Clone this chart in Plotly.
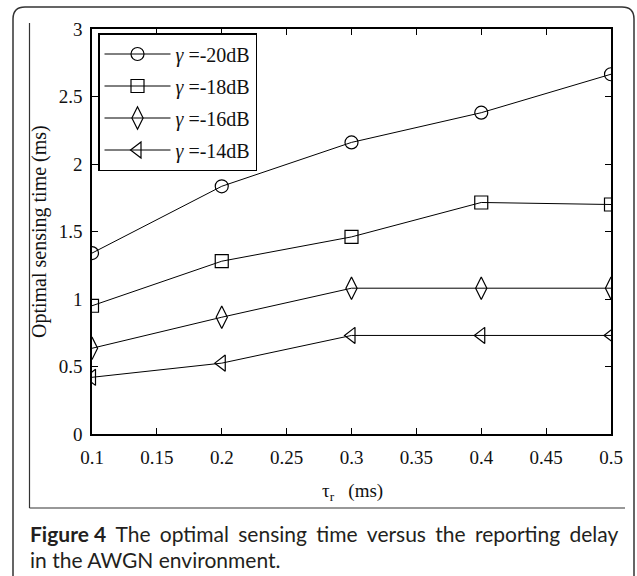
import plotly.graph_objects as go

# ---- data ----
tau_r = [0.1, 0.2, 0.3, 0.4, 0.5]
snr_labels = ["-20dB", "-18dB", "-16dB", "-14dB"]
t_m20 = [1.34, 1.835, 2.16, 2.38, 2.665]
t_m18 = [0.95, 1.28, 1.46, 1.715, 1.70]
t_m16 = [0.635, 0.865, 1.08, 1.08, 1.08]
t_m14 = [0.42, 0.525, 0.73, 0.73, 0.73]
x_ticks = [0.1, 0.15, 0.2, 0.25, 0.3, 0.35, 0.4, 0.45, 0.5]
x_ticklabels = ["0.1", "0.15", "0.2", "0.25", "0.3", "0.35", "0.4", "0.45", "0.5"]
y_ticks = [0, 0.5, 1, 1.5, 2, 2.5, 3]
y_ticklabels = ["0", "0.5", "1", "1.5", "2", "2.5", "3"]

W, H = 637, 576
L, R, T, B = 92, 611, 29, 434  # plot area in pixels


def px(xp):
    return (xp - L) / (R - L)


def py(yp):
    return (B - yp) / (B - T)


SERIF = "Liberation Serif, Times New Roman, serif"
SANS = "Lato, Open Sans, sans-serif"

fig = go.Figure()
series = [t_m20, t_m18, t_m16, t_m14]
symbols = ["circle-open", "square-open", "diamond-tall-open", "triangle-left-open"]
sizes = [13, 13, 16, 14]
for vals, lab, sym, sz in zip(series, snr_labels, symbols, sizes):
    fig.add_trace(go.Scatter(
        x=tau_r, y=vals, mode="lines+markers",
        name="<i>γ</i> =" + lab, legendgroup=lab,
        line=dict(color="black", width=1),
        marker=dict(symbol=sym, size=sz, color="black",
                    line=dict(color="black", width=1.2)),
    ))

axis_common = dict(
    showline=True, linecolor="black", linewidth=1.5, mirror="ticks",
    ticks="inside", ticklen=6, tickcolor="black", tickwidth=1,
    showgrid=False, zeroline=False,
    tickfont=dict(family=SERIF, size=19, color="#111"),
)
fig.update_xaxes(range=[0.1, 0.5], tickvals=x_ticks, ticktext=x_ticklabels,
                 ticklabelstandoff=5, **axis_common)
fig.update_yaxes(range=[0, 3], tickvals=y_ticks, ticktext=y_ticklabels,
                 ticklabelstandoff=4, **axis_common)

shapes = []
# outer rounded frame (open at bottom, image cropped)
r = 12
x0, x1, y0 = 13, 634, 7
path = (f"M {px(x0)},{py(600)} L {px(x0)},{py(y0 + r)} "
        f"Q {px(x0)},{py(y0)} {px(x0 + r)},{py(y0)} "
        f"L {px(x1 - r)},{py(y0)} Q {px(x1)},{py(y0)} {px(x1)},{py(y0 + r)} "
        f"L {px(x1)},{py(600)}")
shapes.append(dict(type="path", xref="paper", yref="paper", path=path,
                   line=dict(color="#333", width=1.5)))
# inner frame lines (left and bottom)
shapes.append(dict(type="line", xref="paper", yref="paper",
                   x0=px(29.5), x1=px(29.5), y0=py(23), y1=py(508),
                   line=dict(color="#333", width=1.2)))
shapes.append(dict(type="line", xref="paper", yref="paper",
                   x0=px(29.5), x1=px(625), y0=py(508), y1=py(508),
                   line=dict(color="#333", width=1.2)))

sp = " \u2009\u200a"
cap1 = "<b>Figure" + "\u00a0" + "4</b>" + sp + sp.join(
    ["The", "optimal", "sensing", "time", "versus", "the", "reporting", "delay"])

annotations = [
    dict(xref="paper", yref="paper", x=px(39), y=py(232), text="Optimal sensing time (ms)",
         textangle=-90, showarrow=False, font=dict(family=SERIF, size=20, color="#111"),
         xanchor="center", yanchor="middle"),
    dict(xref="paper", yref="paper", x=px(352), y=py(492),
         text="τ<sub>r</sub>   (ms)", showarrow=False,
         font=dict(family=SERIF, size=19, color="#111"),
         xanchor="center", yanchor="middle"),
    dict(xref="paper", yref="paper", x=px(28), y=py(533),
         text=cap1,
         showarrow=False, font=dict(family=SANS, size=21, color="#231f20"),
         xanchor="left", yanchor="middle"),
    dict(xref="paper", yref="paper", x=px(28), y=py(559),
         text="in the AWGN environment.",
         showarrow=False, font=dict(family=SANS, size=21, color="#231f20"),
         xanchor="left", yanchor="middle"),
]

fig.update_layout(
    width=W, height=H,
    margin=dict(l=L, r=W - R, t=T, b=H - B, pad=0),
    paper_bgcolor="white", plot_bgcolor="white",
    showlegend=True,
    legend=dict(
        x=px(98), y=py(33), xanchor="left", yanchor="top",
        bgcolor="white", bordercolor="black", borderwidth=1.5,
        font=dict(family=SERIF, size=20, color="#111"),
        tracegroupgap=3, itemwidth=66,
    ),
    shapes=shapes, annotations=annotations,
)

fig.write_html("out.html", config={"displayModeBar": False},
               post_script="document.body.style.margin='0px';")
